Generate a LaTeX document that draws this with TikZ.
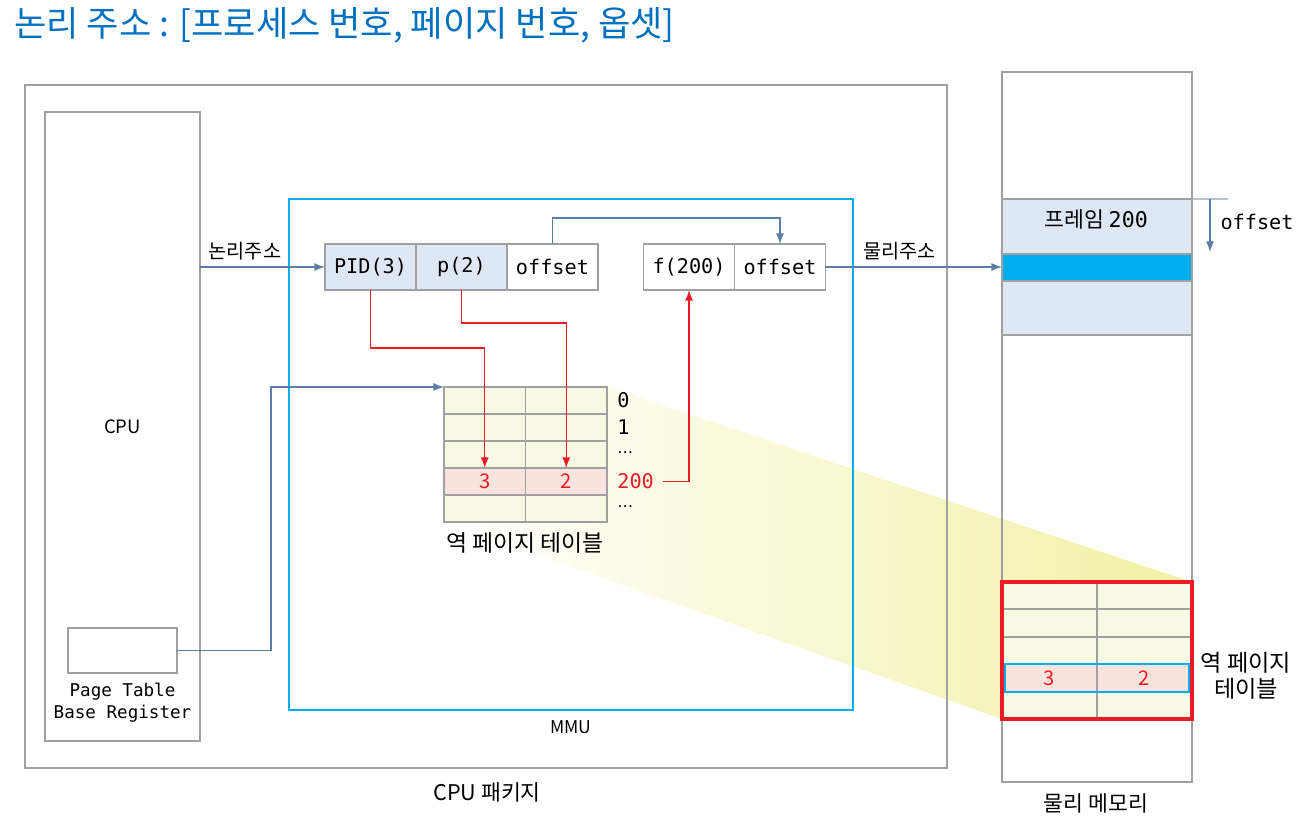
\documentclass[tikz,border=0pt]{standalone}
\usepackage{fontspec}
\setmainfont{Noto Sans CJK KR}
\newfontfamily\monof{DejaVu Sans Mono}
\newfontfamily\symf{DejaVu Sans}
\usepackage{tikz}
\usepackage{xcolor}
\usetikzlibrary{arrows.meta, positioning}

\definecolor{linegray}{HTML}{A0A0A0}
\definecolor{addrblue}{HTML}{DEE8F5}
\definecolor{mmucyan}{HTML}{00ADEF}
\definecolor{ptred}{HTML}{ED1C24}
\definecolor{arrblue}{HTML}{5B7FA6}
\definecolor{rowyellow}{HTML}{F8F9E4}
\definecolor{rowpink}{HTML}{F8E4DC}
\definecolor{titleblue}{HTML}{0070C0}
\definecolor{wedgeyellow}{HTML}{F3F0A4}

\pgfdeclarelayer{background}
\pgfsetlayers{background,main}

\tikzset{
  box/.style={draw=linegray, line width=1.1pt, inner sep=0pt, outer sep=0pt},
  cell/.style={box, minimum width=1.82cm, minimum height=0.92cm, font=\monof\fontsize{11.5}{13}\selectfont},
  tcell/.style={box, minimum width=1.63cm, minimum height=0.54cm},
  mcell/.style={box, minimum width=1.9cm, minimum height=0.548cm},
  num/.style={text=ptred, font=\fontsize{11.5}{13}\selectfont},
  idx/.style={inner sep=0pt, font=\monof\fontsize{11.5}{13}\selectfont},
  lbl/.style={font=\fontsize{10.5}{12}\selectfont},
  klbl/.style={font=\fontsize{13}{15}\selectfont},
  bluearr/.style={draw=arrblue, line width=0.7pt, -{Latex[length=6pt,width=4.5pt]}},
  redarr/.style={draw=ptred, line width=0.7pt, -{Latex[length=6pt,width=4.5pt]}},
}

\begin{document}
\begin{tikzpicture}[x=0.02cm, y=-0.02cm]
\useasboundingbox (0,0) rectangle (1307,829);

\node[anchor=west, text=titleblue, font=\fontsize{20}{24}\selectfont] (title) at (8,25) {논리 주소 : [프로세스 번호, 페이지 번호, 옵셋]};

% CPU 패키지
\node[box, minimum width=18.44cm, minimum height=13.66cm] (pkg) at (486,426.5) {};
\node[lbl, font=\fontsize{12.3}{14}\selectfont] (pkgl) at (487,792) {CPU 패키지};
\node[box, lbl, minimum width=3.1cm, minimum height=12.58cm] (cpu) at (122.5,426.5) {CPU};
\node[box, minimum width=2.18cm, minimum height=0.9cm] (ptbr) at (122.5,650.5) {};
\node[align=center, font=\monof\fontsize{10}{12.5}\selectfont] (ptbrl) at (122.5,703) {Page Table\\Base Register};

% MMU
\node[draw=mmucyan, line width=1.4pt, inner sep=0pt, minimum width=11.28cm, minimum height=10.22cm] (mmu) at (571,454.5) {};
\node[lbl, font=\fontsize{10}{12}\selectfont] (mmul) at (571,727) {MMU};

% 논리주소 / 물리주소
\node[cell, fill=addrblue] (pid) at (370.5,267) {PID(3)};
\node[cell, fill=addrblue, right=0pt of pid] (pg) {p(2)};
\node[cell, fill=white, right=0pt of pg] (ofs) {offset};
\node[cell, fill=white] (fr) at (689,267) {f(200)};
\node[cell, fill=white, right=0pt of fr] (fofs) {offset};

% 역 페이지 테이블
\foreach \r/\fc in {0/rowyellow,1/rowyellow,2/rowyellow,3/rowpink,4/rowyellow}
  \foreach \c in {0,1}
    \node[tcell, fill=\fc] (t-\r-\c) at (484.75+81.5*\c, 400.5+27*\r) {};
\node[num] (tn0) at (t-3-0) {3};
\node[num] (tn1) at (t-3-1) {2};
\node[idx, right=0.2cm of t-0-1] (i0) {0};
\node[idx, right=0.2cm of t-1-1] (i1) {1};
\node[idx, right=0.2cm of t-2-1, font=\symf\fontsize{9}{10}\selectfont] (i2) {⋯};
\node[idx, right=0.2cm of t-3-1, text=ptred] (i3) {200};
\node[idx, right=0.2cm of t-4-1, font=\symf\fontsize{9}{10}\selectfont] (i4) {⋯};
\node[klbl] (tl) at (525,543) {역 페이지 테이블};

% 물리 메모리
\node[box, minimum width=3.8cm, minimum height=14.2cm] (mem) at (1097,427) {};
\node[font=\fontsize{12.3}{14}\selectfont] (meml) at (1096,803) {물리 메모리};
\node[box, fill=addrblue, minimum width=3.8cm, minimum height=1.1cm] (frame) at (1097,226.5) {};
\node[font=\fontsize{12.3}{14}\selectfont] (framel) at (1096,219) {프레임 {\monof 200}};
\node[box, fill=mmucyan, minimum width=3.8cm, minimum height=0.54cm] (cur) at (1097,267.5) {};
\node[box, fill=addrblue, minimum width=3.8cm, minimum height=1.08cm] (rest) at (1097,308) {};

\foreach \r/\fc in {0/rowyellow,1/rowyellow,2/rowyellow,3/rowpink,4/rowyellow}
  \foreach \c in {0,1}
    \node[mcell, fill=\fc] (m-\r-\c) at (1049.5+95*\c, 595.7+27.4*\r) {};
\node[num] (mn0) at (m-3-0) {3};
\node[num] (mn1) at (m-3-1) {2};
\draw[ptred, line width=1.8pt] (m-0-0.north west) rectangle (m-4-1.south east);
\draw[mmucyan, line width=1.2pt] ([xshift=1.8pt]m-3-0.north west) rectangle ([xshift=-1.8pt]m-3-1.south east);
\node[align=center, font=\fontsize{13.2}{14.5}\selectfont] (mtl) at (1246,676) {역 페이지\\테이블};

% offset 표시
\coordinate (otop) at (1228,199);
\coordinate (oa) at (1210,199);
\coordinate (ob) at (1210,252);
\draw[arrblue!70, line width=0.7pt] (frame.north east) -- (otop);
\draw[bluearr] (oa) -- (ob);
\node[idx] (offl) at (1257,222) {offset};

% connectors
\draw[bluearr] (cpu.east |- pid.west) -- node[above, pos=0.36, font=\fontsize{11.2}{13}\selectfont] (la) {논리주소} (pid.west);
\draw[bluearr] (fofs.east) -- node[above, pos=0.42, font=\fontsize{11.2}{13}\selectfont] (pa) {물리주소} (mem.west |- fofs.east);
\draw[bluearr] (ofs.north) -- ++(0,-26) -| (fofs.north);
\draw[bluearr] (ptbr.east) -- ++(94,0) |- (t-0-0.north west);
\draw[redarr] (pid.south) -- ++(0,58) -| (t-3-0.north);
\draw[redarr] (pg.south) -- ++(0,33) -| (t-3-1.north);
\draw[redarr, shorten <=5pt] (i3.east) -| (fr.south);

% 확대 표시
\begin{pgfonlayer}{background}
\shade[left color=white, right color=wedgeyellow] (t-0-1.north east) -- (m-0-1.north east) -- (m-4-0.south west) -- (t-4-0.south west) -- cycle;
\end{pgfonlayer}
\end{tikzpicture}
\end{document}
